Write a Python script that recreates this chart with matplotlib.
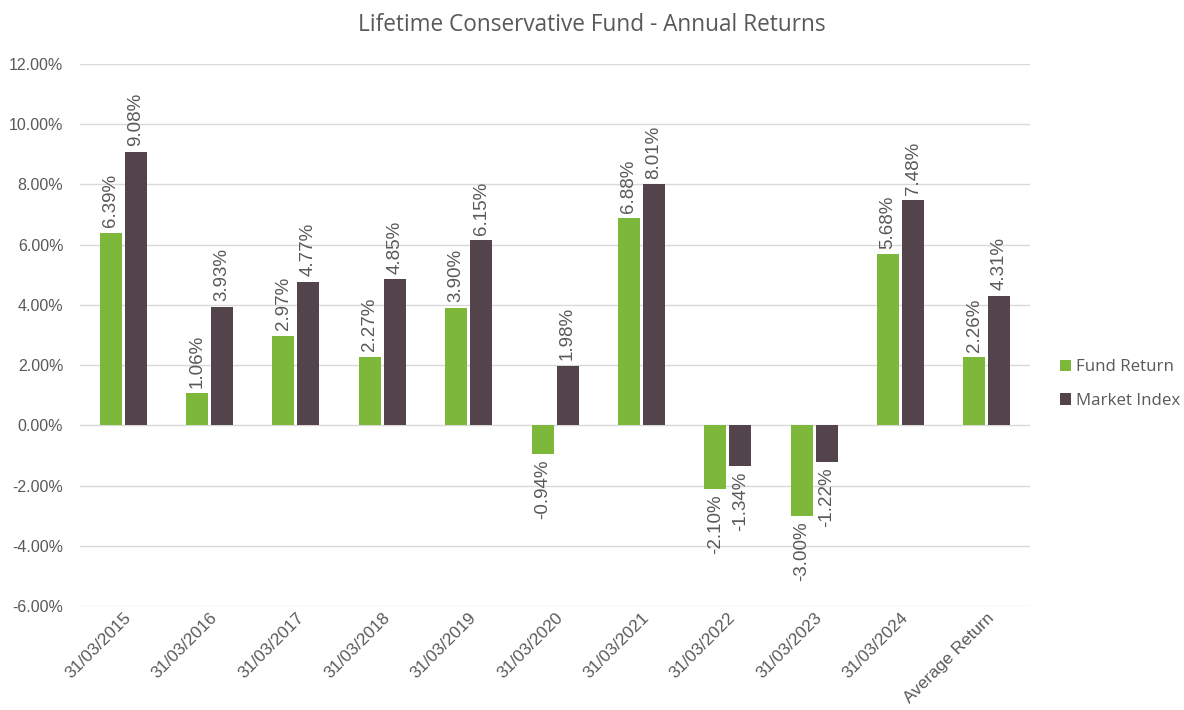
import matplotlib
matplotlib.use("Agg")
import matplotlib.pyplot as plt
import numpy as np
from matplotlib.ticker import FuncFormatter, MultipleLocator
from matplotlib.transforms import ScaledTranslation

categories = ["31/03/2015", "31/03/2016", "31/03/2017", "31/03/2018", "31/03/2019",
              "31/03/2020", "31/03/2021", "31/03/2022", "31/03/2023", "31/03/2024",
              "Average Return"]
fund_return = [6.39, 1.06, 2.97, 2.27, 3.90, -0.94, 6.88, -2.10, -3.00, 5.68, 2.26]
market_index = [9.08, 3.93, 4.77, 4.85, 6.15, 1.98, 8.01, -1.34, -1.22, 7.48, 4.31]
series_names = ["Fund Return", "Market Index"]
title = "Lifetime Conservative Fund - Annual Returns"

green = "#7DB83A"
maroon = "#53434A"
gray = "#595959"

fig = plt.figure(figsize=(11.84, 7.1), dpi=100)
ax = fig.add_axes([0.0676, 0.1465, 0.8024, 0.7634])

x = np.arange(len(categories))
w = 0.255
off = 0.145
b1 = ax.bar(x - off, fund_return, width=w, color=green, label=series_names[0], zorder=3)
b2 = ax.bar(x + off, market_index, width=w, color=maroon, label=series_names[1], zorder=3)

lab_font = dict(family="Liberation Sans", size=13.5, color=gray)
for bars, vals in ((b1, fund_return), (b2, market_index)):
    for rect, v in zip(bars, vals):
        cx = rect.get_x() + rect.get_width() / 2
        if v >= 0:
            ax.annotate(f"{v:.2f}%", (cx, v), xytext=(0, 4), textcoords="offset points",
                        rotation=90, ha="center", va="bottom", **lab_font)
        else:
            ax.annotate(f"{v:.2f}%", (cx, v), xytext=(0, -4), textcoords="offset points",
                        rotation=90, ha="center", va="top", **lab_font)

ax.set_xlim(-0.5, len(categories) - 0.5)
ax.set_ylim(-6, 12)
ax.yaxis.set_major_locator(MultipleLocator(2))
ax.yaxis.set_major_formatter(FuncFormatter(lambda v, p: f"{v:.2f}%"))
ax.grid(axis="y", color="#D9D9D9", linewidth=1, zorder=0)
for s in ax.spines.values():
    s.set_visible(False)
ax.tick_params(axis="both", length=0)
ax.tick_params(axis="y", pad=12)
ax.set_xticks(x)
ax.set_xticklabels(categories, rotation=45, ha="right", rotation_mode="anchor")
for t in ax.get_yticklabels():
    t.set_fontfamily("Liberation Sans")
    t.set_color(gray)
    t.set_fontsize(11.5)
shift = ScaledTranslation(5 / 100, 0, fig.dpi_scale_trans)
for t in ax.get_xticklabels():
    t.set_fontfamily("Liberation Sans")
    t.set_color(gray)
    t.set_fontsize(12.3)
    t.set_transform(t.get_transform() + shift)
ax.tick_params(axis="x", pad=3)

fig.text(0.5, 0.965, title, ha="center", va="center", fontsize=16.3,
         family="Open Sans", color=gray)

leg = ax.legend(loc="center left", bbox_to_anchor=(1.031, 0.409), frameon=False,
                borderaxespad=0, borderpad=0,
                prop=dict(family="Open Sans", size=12.2), handlelength=0.7,
                handleheight=0.7, handletextpad=0.3, labelspacing=1.05)
for t in leg.get_texts():
    t.set_color(gray)

fig.savefig("out.png", dpi=100)
